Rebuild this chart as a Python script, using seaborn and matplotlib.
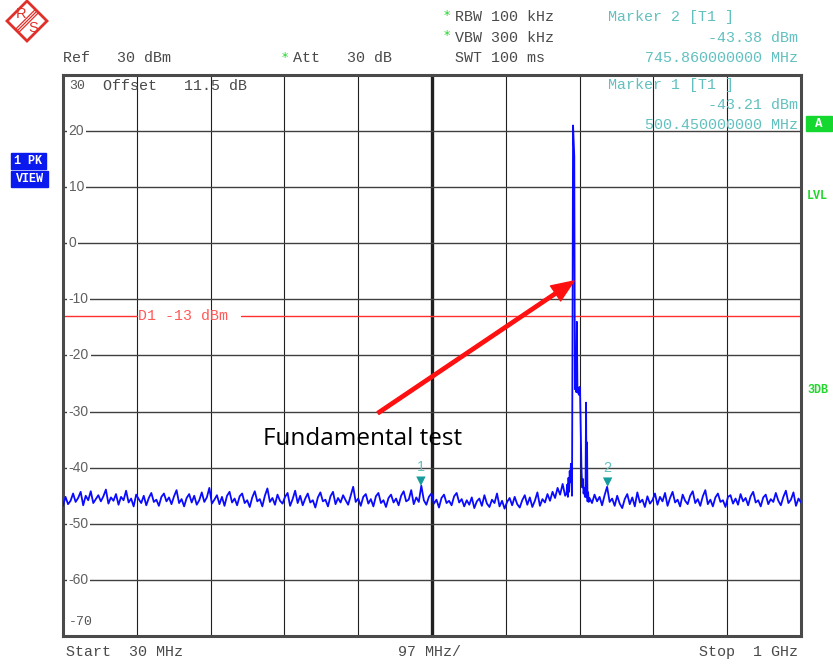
import numpy as np
import pandas as pd
import matplotlib
matplotlib.use('Agg')
import matplotlib.pyplot as plt
import matplotlib.transforms as mtransforms
from matplotlib.patches import Polygon, Rectangle
from matplotlib.lines import Line2D
import seaborn as sns

W, H = 833, 666

# sweep settings
START_MHZ = 30.0
STOP_MHZ = 1000.0
SPAN_DIV = 97.0
REF_DBM = 30.0
BOTTOM_DBM = -70.0
D1_DBM = -13.0

# noise floor, 30 .. 690 MHz (evenly swept)
noise_lo = [
    -46.8, -45.2, -46.5, -45.9, -44.6, -46.1, -45.4, -44.3, -46.7, -45.0, -45.8, -44.2, -46.3, -45.6, -44.9, -46.0, -45.1, -43.9, -46.4, -45.3,
    -45.9, -44.7, -46.6, -45.2, -45.8, -44.1, -46.2, -45.5, -46.9, -44.8, -45.6, -46.3, -45.0, -46.7, -45.4, -44.5, -46.1, -45.7, -46.8, -45.2,
    -44.6, -46.0, -45.3, -46.5, -45.1, -44.0, -46.3, -45.6, -46.9, -45.4, -44.7, -46.2, -45.0, -46.6, -45.8, -44.4, -46.1, -45.3, -43.6, -46.4,
    -45.7, -44.9, -46.5, -45.2, -46.8, -45.0, -44.3, -46.2, -45.5, -46.7, -45.1, -44.6, -46.3, -45.8, -47.0, -45.3, -44.2, -46.0, -45.6, -46.9,
    -45.0, -43.7, -46.1, -45.4, -46.6, -44.8, -45.9, -46.4, -45.2, -44.5, -46.8, -45.6, -44.1, -46.3, -45.0, -46.7, -45.5, -44.6, -46.2, -45.8,
    -47.1, -45.3, -44.4, -46.0, -45.7, -46.9, -45.1, -44.3, -46.5, -45.4, -46.2, -44.9, -45.8, -46.6, -45.0, -43.4, -46.1, -45.5, -46.8, -45.2,
    -44.7, -46.4, -45.6, -46.9, -45.1, -44.5, -46.3, -45.8, -47.0, -45.4, -44.8, -46.2, -45.5, -46.7, -45.0, -44.2, -46.0, -45.7, -44.0, -46.5,
    -45.3, -46.1, -43.2, -45.8, -46.6, -45.2, -44.6, -46.4, -45.7, -47.1, -45.4, -44.8, -46.3, -45.9, -46.7, -45.1, -44.5, -46.2, -45.6, -46.9,
    -45.8, -46.6, -45.3, -47.2, -46.0, -45.5, -46.8, -44.9, -46.4, -47.0, -45.7, -46.3, -44.6, -46.9, -45.9, -47.3, -46.1, -45.4, -46.7, -45.2,
    -46.5, -47.1, -45.8, -44.9, -46.6, -45.3, -47.0, -45.9, -44.4, -46.8, -45.6, -46.2, -44.7, -45.9, -44.3, -45.4, -43.6, -44.8, -42.9, -45.0,
]

# carrier and spurs around 700 MHz
peak_freq = [691.8, 692.8, 693.6, 694.4, 695.2, 696.0, 696.8, 697.6, 698.3, 699.0,
             699.6, 700.4, 701.2, 702.0, 702.8, 703.6, 704.4, 705.4, 706.2, 707.0,
             708.0, 708.8, 709.6, 710.4, 711.4, 712.4, 713.3, 714.2, 715.1, 716.0,
             716.8, 717.5, 718.1, 718.8, 719.4, 720.2, 721.0]
peak_level = [-44.6, -43.0, -45.2, -41.8, -44.3, -40.6, -42.6, -39.3, -41.2, -45.0,
              -20.0, 21.0, 18.0, 15.5, -26.0, -25.0, -26.5, -14.0, -26.6, -25.8,
              -27.0, -25.6, -26.4, -32.0, -40.0, -43.5, -42.0, -44.6, -43.6, -45.2,
              -44.0, -28.4, -45.3, -35.5, -46.0, -44.4, -46.1]

# noise floor, 722 .. 1000 MHz
noise_hi = [
    -45.4, -46.3, -44.8, -46.0, -45.2, -46.7, -44.9, -43.4, -46.1, -45.5, -46.8, -45.0, -46.4, -47.2, -45.6, -44.7, -46.5, -45.3, -46.9, -44.4,
    -46.2, -45.7, -47.0, -45.1, -46.4, -45.8, -44.6, -46.6, -45.2, -46.0, -44.5, -46.8, -45.4, -44.3, -46.2, -45.7, -46.9, -44.8, -45.9, -46.5,
    -45.0, -44.2, -46.3, -45.6, -46.8, -45.1, -44.0, -46.5, -45.7, -46.9, -45.3, -44.6, -46.1, -45.8, -47.0, -45.2, -44.9, -46.4, -45.5, -46.6,
    -44.7, -46.0, -45.4, -46.7, -45.1, -44.3, -46.2, -45.8, -46.9, -45.3, -44.8, -46.5, -45.6, -46.1, -44.5, -45.9, -46.7, -45.2, -44.1, -46.3,
    -45.7, -44.4, -46.8, -45.5, -46.2,
]

marker_names = ['1', '2']
marker_freq = [500.45, 745.86]
marker_level = [-43.21, -43.38]

y_labels = [20, 10, 0, -10, -20, -30, -40, -50, -60]

MONO = 'Liberation Mono'
HDR = '#4a4a4a'
TEAL = '#62c0c0'
GREEN = '#22d62e'
FS = 10.8


def fx(x):
    return x / W


def fy(y):
    return 1 - y / H


def ftext(x, y, s, **kw):
    kw.setdefault('family', MONO)
    kw.setdefault('fontsize', FS)
    kw.setdefault('color', HDR)
    kw.setdefault('va', 'center')
    fig.text(fx(x), fy(y), s, **kw)


sns.set_style('white')
plt.rcParams['font.family'] = ['Liberation Sans', 'DejaVu Sans']

trace = pd.DataFrame({
    'freq': np.concatenate([np.linspace(30, 690, len(noise_lo)), peak_freq,
                            np.linspace(722, 1000, len(noise_hi))]),
    'level': np.concatenate([noise_lo, peak_level, noise_hi]),
})

fig = plt.figure(figsize=(W / 100, H / 100), dpi=100)
ax = fig.add_axes([63 / W, 1 - 636 / H, 738 / W, 561 / H])
ax.set_xlim(START_MHZ, STOP_MHZ)
ax.set_ylim(BOTTOM_DBM, REF_DBM)

# graticule
for k in range(1, 10):
    f = START_MHZ + k * SPAN_DIV
    ax.axvline(f, color='#202020', lw=0.8 if k != 5 else 2.4, zorder=1)
for lv in y_labels:
    ax.axhline(lv, color='#404040', lw=1.0, zorder=1)
ax.set_xticks([])
ax.set_yticks([])
for sp in ax.spines.values():
    sp.set_color('#4a4a4a')
    sp.set_linewidth(2.2)

for lv in y_labels:
    ax.text(START_MHZ + 7.5, lv, str(lv), fontsize=10, color='#606060',
            va='center', ha='left', zorder=3,
            bbox=dict(facecolor='white', edgecolor='none', pad=1.2))
ax.text(START_MHZ + 7.5, 28.0, '30', family=MONO, fontsize=9.5, color='#555555', va='center')
ax.text(START_MHZ + 7.5, -67.5, '-70', family=MONO, fontsize=9.5, color='#555555', va='center')
ax.text(START_MHZ + 52, 28.0, 'Offset   11.5 dB', family=MONO, fontsize=FS, color=HDR, va='center')

# display line D1
ax.axhline(D1_DBM, xmax=0.100, color='#ff3030', lw=1.0, zorder=2)
ax.axhline(D1_DBM, xmin=0.241, color='#ff3030', lw=1.0, zorder=2)
ax.text(129, D1_DBM, 'D1 -13 dBm', family=MONO, fontsize=FS, color='#ff5a5a', va='center')

sns.lineplot(data=trace, x='freq', y='level', ax=ax, color='#0a0aff', lw=1.3,
             estimator=None, sort=True, zorder=4)
ax.set_xlabel('')
ax.set_ylabel('')

# markers
tri = mtransforms.offset_copy(ax.transData, fig=fig, x=0, y=4.5, units='dots')
ax.scatter(marker_freq, marker_level, marker='v', s=46, color='#169c9c',
           edgecolor='none', transform=tri, zorder=5)
for name, f, lv in zip(marker_names, marker_freq, marker_level):
    ax.annotate(name, (f, lv), xytext=(0, 13.5), textcoords='offset points',
                ha='center', va='center', fontsize=10.5, color=TEAL, zorder=5)

# header
ftext(285, 57, '*', color=GREEN, fontsize=9, family='DejaVu Sans', ha='center')
ftext(447, 16, '*', color=GREEN, fontsize=9, family='DejaVu Sans', ha='center')
ftext(447, 36, '*', color=GREEN, fontsize=9, family='DejaVu Sans', ha='center')
ftext(63, 58, 'Ref   30 dBm')
ftext(293, 58, 'Att   30 dB')
ftext(455, 17, 'RBW 100 kHz')
ftext(455, 38, 'VBW 300 kHz')
ftext(455, 58, 'SWT 100 ms')

ftext(608, 17, 'Marker 2 [T1 ]', color=TEAL)
ftext(798, 38, '-43.38 dBm', color=TEAL, ha='right')
ftext(798, 58, '745.860000000 MHz', color=TEAL, ha='right')
ftext(608, 85, 'Marker 1 [T1 ]', color=TEAL)
ftext(798, 105, '-43.21 dBm', color=TEAL, ha='right')
ftext(798, 125, '500.450000000 MHz', color=TEAL, ha='right')

# footer
ftext(66, 652, 'Start  30 MHz')
ftext(398, 652, '97 MHz/')
ftext(699, 652, 'Stop  1 GHz')

# side boxes
for (x0, y0, x1, y1, s) in [(11, 153, 46, 169, '1 PK'), (11, 171, 48, 187, 'VIEW')]:
    fig.patches.append(Rectangle((fx(x0), fy(y1)), fx(x1 - x0), (y1 - y0) / H,
                                 transform=fig.transFigure, color='#0a1aee'))
    ftext((x0 + x1) / 2, (y0 + y1) / 2, s, color='white', fontsize=8.5,
          weight='bold', ha='center')
fig.patches.append(Rectangle((fx(806), fy(131)), fx(26), 15 / H,
                             transform=fig.transFigure, color='#14d830'))
ftext(819, 124, 'A', color='white', fontsize=9, weight='bold', ha='center')
ftext(807, 196, 'LVL', color=GREEN, fontsize=8.5, weight='bold')
ftext(807, 390, '3DB', color=GREEN, fontsize=8.5, weight='bold')

# R&S logo
red = '#e0302a'
fig.patches.append(Polygon([(fx(27), fy(1)), (fx(47), fy(21)), (fx(27), fy(41)), (fx(7), fy(21))],
                           closed=True, fill=False, edgecolor=red, lw=2.0,
                           transform=fig.transFigure))
for d in (-1.6, 0, 1.6):
    fig.lines.append(Line2D([fx(17 + d), fx(37 + d)], [fy(31 + d), fy(11 + d)],
                            color=red, lw=0.9, transform=fig.transFigure))
ftext(21, 14, 'R', family='Liberation Sans', fontsize=10.5, color=red, ha='center')
ftext(33, 28, 'S', family='Liberation Sans', fontsize=10.5, color=red, ha='center')

# annotation
fig.text(fx(263), fy(439), 'Fundamental test', family='Open Sans', fontsize=17.5,
         color='black', va='center', ha='left')
ax.annotate('', xy=(fx(574), fy(281)), xycoords='figure fraction',
            xytext=(fx(378), fy(413)), textcoords='figure fraction',
            arrowprops=dict(facecolor='#ff1010', edgecolor='#ff1010',
                            width=2.4, headwidth=13, headlength=16), zorder=6)

fig.savefig('out.png', dpi=100)
